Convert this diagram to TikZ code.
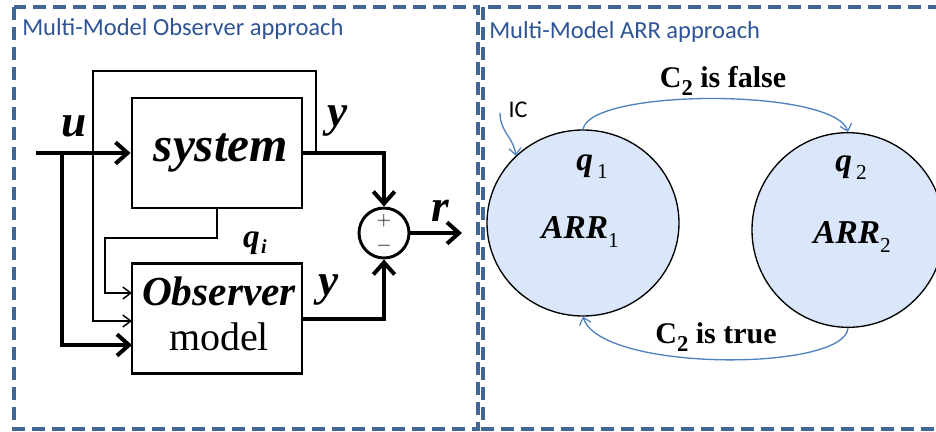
\documentclass[tikz,border=0pt]{standalone}
\usepackage{fontspec}
\setmainfont{Liberation Serif}
\newfontfamily\calibri{Carlito}
\usetikzlibrary{arrows.meta,shapes.geometric}
\definecolor{dashblue}{RGB}{65,102,148}
\definecolor{titleblue}{RGB}{47,84,150}
\definecolor{arcblue}{RGB}{79,129,189}
\definecolor{statefill}{RGB}{218,230,250}
\tikzset{
  panel/.style={draw=dashblue, line width=2.4pt, dash pattern=on 9.75pt off 5.25pt},
  paneltitle/.style={font=\calibri\fontsize{18.4}{20}\selectfont, text=titleblue, anchor=west, inner sep=0pt},
  blk/.style={draw, line width=2.2pt, minimum width=127.5pt, minimum height=82.5pt, inner sep=0pt},
  thickline/.style={line width=3pt},
  thinline/.style={line width=1.1pt},
  bigtip/.style={-{Straight Barb[length=9pt,width=16pt,line width=3pt]}},
  smalltip/.style={-{Straight Barb[length=6pt,width=9pt,line width=1.1pt]}},
  sumnode/.style={circle, draw, line width=2.2pt, minimum size=37.5pt, inner sep=0pt},
  sign/.style={font=\fontsize{15}{16}\selectfont, inner sep=0pt},
  lbl/.style={font=\bfseries\itshape\fontsize{34}{36}\selectfont, inner sep=0pt},
  state/.style={ellipse, draw, line width=1pt, fill=statefill, inner sep=0pt},
  arc/.style={draw=arcblue, line width=1pt, -{Straight Barb[length=5pt,width=9pt,line width=0.9pt]}},
  cond/.style={font=\bfseries\fontsize{22.5}{24}\selectfont, inner sep=0pt},
}
\begin{document}
\begin{tikzpicture}[x=0.75pt,y=-0.75pt]
\useasboundingbox (0,0) rectangle (936,432);
% panels
\draw[panel] (14,7) rectangle (478,429);
\draw[panel] (483,7) rectangle (960,429);
\node[paneltitle] (t1) at (22,29) {Multi-Model Observer approach};
\node[paneltitle] (t2) at (489,32) {Multi-Model ARR approach};

% left block diagram
\node[blk] (sys) at (217,153) {};
\node[font=\bfseries\itshape\fontsize{37}{39}\selectfont, inner sep=0pt] (systxt) at (221,153) {system};
\node[blk] (obs) at (217,318.5) {};
\node[font=\bfseries\itshape\fontsize{31}{33}\selectfont, inner sep=0pt] (obstxt) at (219,291) {Observer};
\node[font=\fontsize{30}{32}\selectfont, inner sep=0pt] (modtxt) at (219,337) {model};
\node[sumnode] (sum) at (384,233) {};
\node[sign] (plus) at (384,221) {$+$};
\node[sign] (minus) at (384,246) {$-$};

\coordinate (uin) at (36,153);
\coordinate (j1) at (62,153);
\coordinate (j2) at (316,153);
\coordinate (o1) at (132,293);
\coordinate (o2) at (132,321);
\coordinate (o3) at (132,345);
\coordinate (rout) at (462,233);

\draw[thickline,bigtip] (uin) -- (sys.west);
\draw[thickline,bigtip] (j1) -- (62,345) -- (o3);
\draw[thinline,smalltip] (j2) -- (316,71) -- (93,71) -- (93,321) -- (o2);
\draw[thinline,smalltip] (sys.south) -- (217,238) -- (105,238) -- (105,293) -- (o1);
\draw[thickline,bigtip] (sys.east) -- (sum.north |- sys.east) -- (sum.north);
\draw[thickline,bigtip] (obs.east) -- (sum.south |- obs.east) -- (sum.south);
\draw[thickline,bigtip] (sum.east) -- (rout);

\node[lbl] (ulbl) at (74,126) {u};
\node[lbl] (y1lbl) at (338,121) {y};
\node[lbl] (y2lbl) at (329,290) {y};
\node[lbl] (rlbl) at (440,211) {r};
\node[font=\bfseries\itshape\fontsize{25}{27}\selectfont, inner sep=0pt] (qi) at (255,243) {q\kern1pt\raisebox{-5pt}{\fontsize{15}{16}\selectfont i}};

% right state diagram
\node[state, minimum width=144pt, minimum height=139.5pt] (q1) at (583,223) {};
\node[state, minimum width=144pt, minimum height=146pt] (q2) at (848,230) {};
\node[font=\bfseries\itshape\fontsize{25}{27}\selectfont, inner sep=0pt] (q1t) at (592,167) {q\kern3pt\raisebox{-6pt}{\upshape\mdseries\fontsize{16}{17}\selectfont 1}};
\node[font=\bfseries\itshape\fontsize{25}{27}\selectfont, inner sep=0pt] (q2t) at (851,168) {q\kern3pt\raisebox{-6pt}{\upshape\mdseries\fontsize{16}{17}\selectfont 2}};
\node[font=\bfseries\itshape\fontsize{25}{27}\selectfont, inner sep=0pt] (a1) at (580,232) {ARR\raisebox{-7pt}{\upshape\mdseries\fontsize{16}{17}\selectfont 1}};
\node[font=\bfseries\itshape\fontsize{25}{27}\selectfont, inner sep=0pt] (a2) at (852,237) {ARR\raisebox{-7pt}{\upshape\mdseries\fontsize{16}{17}\selectfont 2}};

\draw[arc] (q1.north) .. controls (590,88) and (835,88) .. (q2.north);
\draw[arc] (q2.south) .. controls (845,372) and (600,372) .. (q1.south);
\node[cond] (cf) at (723,81) {C\raisebox{-6pt}{\fontsize{17}{18}\selectfont 2} is false};
\node[cond] (ct) at (716,337) {C\raisebox{-6pt}{\fontsize{17}{18}\selectfont 2} is true};

\node[font=\calibri\fontsize{18}{19}\selectfont, inner sep=0pt] (ic) at (518,110) {IC};
\coordinate (icstart) at (500,113);
\draw[arc] (icstart) .. controls (500,132) and (514,138) .. (q1.135);
\end{tikzpicture}
\end{document}
